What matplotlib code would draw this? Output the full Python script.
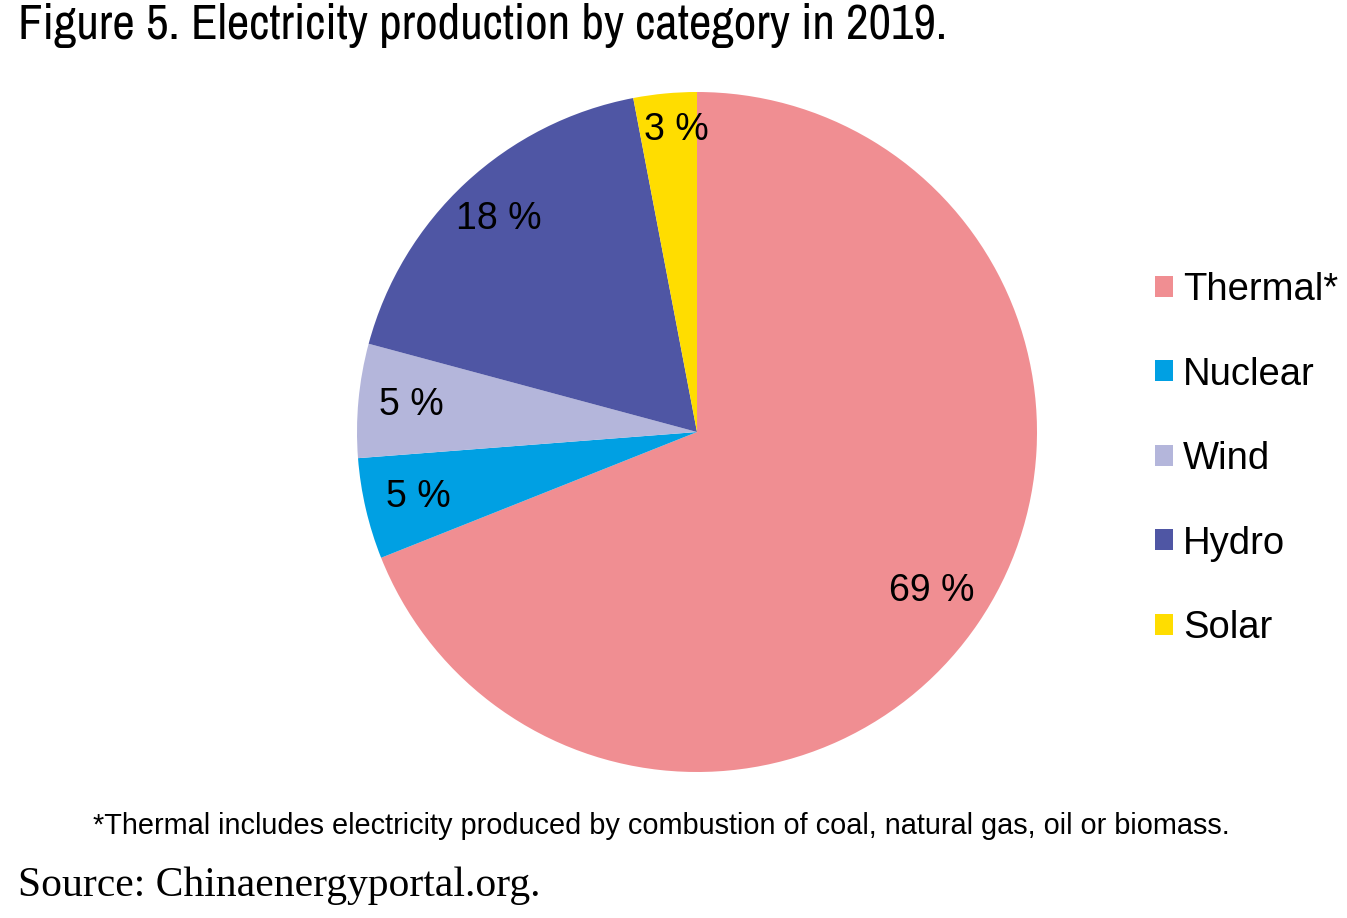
import numpy as np
import matplotlib.pyplot as plt
from matplotlib.patches import Patch
from matplotlib import font_manager

# data
categories = ['Thermal*', 'Nuclear', 'Wind', 'Hydro', 'Solar']
shares = [68.9, 4.8, 5.4, 17.8, 3.0]
colors = ['#F08E92', '#00A0E3', '#B4B6DB', '#4F56A4', '#FFDD00']

title = 'Figure 5. Electricity production by category in 2019.'
note = '*Thermal includes electricity produced by combustion of coal, natural gas, oil or biomass.'
source = 'Source: Chinaenergyportal.org.'

W, H = 1347, 918
fig = plt.figure(figsize=(W / 100, H / 100), dpi=100)

# pie axes: centre (697, 432), radius 340 px
cx, cy, r = 697, 432, 340
ax = fig.add_axes([(cx - r) / W, (H - cy - r) / H, 2 * r / W, 2 * r / H])
wedges, texts, autotexts = ax.pie(shares, colors=colors, startangle=90, counterclock=False,
                                  autopct=lambda p: '%d %%' % round(p), pctdistance=0.85,
                                  wedgeprops=dict(linewidth=0),
                                  textprops=dict(fontsize=27, family=['Liberation Sans', 'DejaVu Sans']))
# nudge label radii a bit, like the original
label_dist = [0.835, 0.84, 0.845, 0.855, 0.89]
label_turn = [0, 0, 0, 0, -1.5]   # degrees
for w, t, d, da in zip(wedges, autotexts, label_dist, label_turn):
    a = np.deg2rad((w.theta1 + w.theta2) / 2 + da)
    t.set_position((d * np.cos(a), d * np.sin(a)))
ax.set_xlim(-1, 1)
ax.set_ylim(-1, 1)
ax.axis('off')

#------ legend ------#
handles = [Patch(facecolor=c, edgecolor='none') for c in colors]
fig.legend(handles, categories, loc='upper left', bbox_to_anchor=(1155 / W, 1 - 272 / H),
           frameon=False, prop={'family': 'Liberation Sans', 'size': 27.5},
           handlelength=0.47, handleheight=0.47, handletextpad=0.27, labelspacing=1.27,
           borderpad=0, borderaxespad=0)

#------ texts ------#
names = sorted({f.name for f in font_manager.fontManager.ttflist})
narrow = [n for n in names if 'Narrow' in n or 'Condensed' in n]
if narrow:
    fig.text(18 / W, 1 - 3 / H, title, ha='left', va='top', fontsize=35.4, family=narrow[0])
else:
    fig.text(18 / W, 1 - 6 / H, title, ha='left', va='top', fontsize=29.5,
             family='Liberation Sans')
fig.text(661 / W, 1 - 826 / H, note, ha='center', va='center', fontsize=20.8,
         family='Liberation Sans')
fig.text(18 / W, 1 - 886 / H, source, ha='left', va='center', fontsize=30,
         family='Liberation Serif')

fig.savefig('out.png', dpi=100, facecolor='white')
